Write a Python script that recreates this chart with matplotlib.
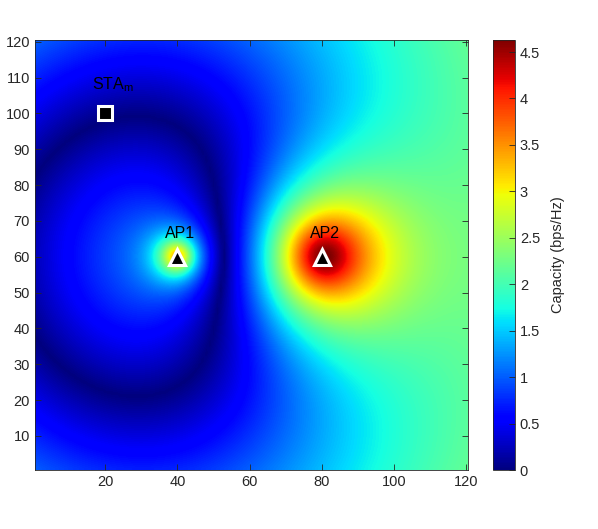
import numpy as np
import matplotlib
matplotlib.use("Agg")
import matplotlib.pyplot as plt

plt.rcParams["font.family"] = ["Liberation Sans", "DejaVu Sans"]

# grid (1..120 in both directions)
grid_x = np.arange(1, 121)
grid_y = np.arange(1, 121)

# node positions and labels
ap_x = [40, 80]
ap_y = [60, 60]
ap_labels = ["AP1", "AP2"]
sta_x = [20]
sta_y = [100]
sta_label = r"STA$_\mathregular{m}$"

# field parameters, matched to the colours of the reference
base_level = 3.86352
ap_power = [6.6023, 39.276]
ap_radius = [3.15892, 7.7116]
ap_exponent = [2.10379, 1.98308]
ap_sign = [-1, 1]
ap1_wide_level = 5.58089
ap1_wide_radius = 81.616

cbar_max = 4.63
cbar_ticks = [0, 0.5, 1, 1.5, 2, 2.5, 3, 3.5, 4, 4.5]
cbar_labels = ["0", "0.5", "1", "1.5", "2", "2.5", "3", "3.5", "4", "4.5"]
x_ticks = [20, 40, 60, 80, 100, 120]
y_ticks = [10, 20, 30, 40, 50, 60, 70, 80, 90, 100, 110, 120]


def capacity_map() -> np.ndarray:
    xx, yy = np.meshgrid(grid_x, grid_y)
    field = np.full(xx.shape, base_level, dtype=float)
    for px, py, p, r, a, s in zip(ap_x, ap_y, ap_power, ap_radius, ap_exponent, ap_sign):
        d = np.hypot(xx - px, yy - py)
        field += s * np.log2(1 + p / (1 + (d / r) ** a))
    d1 = np.hypot(xx - ap_x[0], yy - ap_y[0])
    field -= ap1_wide_level / (1 + (d1 / ap1_wide_radius) ** 2)
    return np.abs(field)


cap = capacity_map()

fig = plt.figure(figsize=(5.98, 5.29), dpi=100)
ax = fig.add_axes([0.0585, 0.1115, 0.724, 0.813])
cax = fig.add_axes([0.8244, 0.1115, 0.0368, 0.813])

im = ax.imshow(cap, origin="lower", cmap="jet", vmin=0, vmax=cbar_max,
               extent=(0.5, 120.5, 0.5, 120.5), aspect="auto", interpolation="bilinear")

ax.plot(ap_x, ap_y, linestyle="none", marker="^", markersize=12,
        markerfacecolor="black", markeredgecolor="white", markeredgewidth=2.2)
ax.plot(sta_x, sta_y, linestyle="none", marker="s", markersize=10,
        markerfacecolor="black", markeredgecolor="white", markeredgewidth=2.2)

for x, y, lab in zip(ap_x, ap_y, ap_labels):
    ax.text(x + 0.8, y + 4.5, lab, ha="center", va="bottom", fontsize=11.5)
ax.text(sta_x[0] - 3.6, sta_y[0] + 5.5, sta_label, ha="left", va="bottom", fontsize=11.5)

ax.set_xlim(0.5, 120.5)
ax.set_ylim(0.5, 120.5)
ax.set_xticks(x_ticks)
ax.set_yticks(y_ticks)
ax.tick_params(direction="in", top=True, right=True, length=4, width=0.6,
               labelsize=10.5, colors="0.15")
for sp in ax.spines.values():
    sp.set_color("0.15")
    sp.set_linewidth(0.6)

cb = fig.colorbar(im, cax=cax)
cb.set_ticks(cbar_ticks)
cb.set_ticklabels(cbar_labels)
cb.ax.tick_params(direction="in", length=4, width=0.6, labelsize=10.5, colors="0.15")
cb.outline.set_edgecolor("0.15")
cb.outline.set_linewidth(0.6)
cb.set_label("Capacity (bps/Hz)", fontsize=10.5, color="0.15", labelpad=8)

fig.savefig("out.png", dpi=100)
plt.close(fig)
